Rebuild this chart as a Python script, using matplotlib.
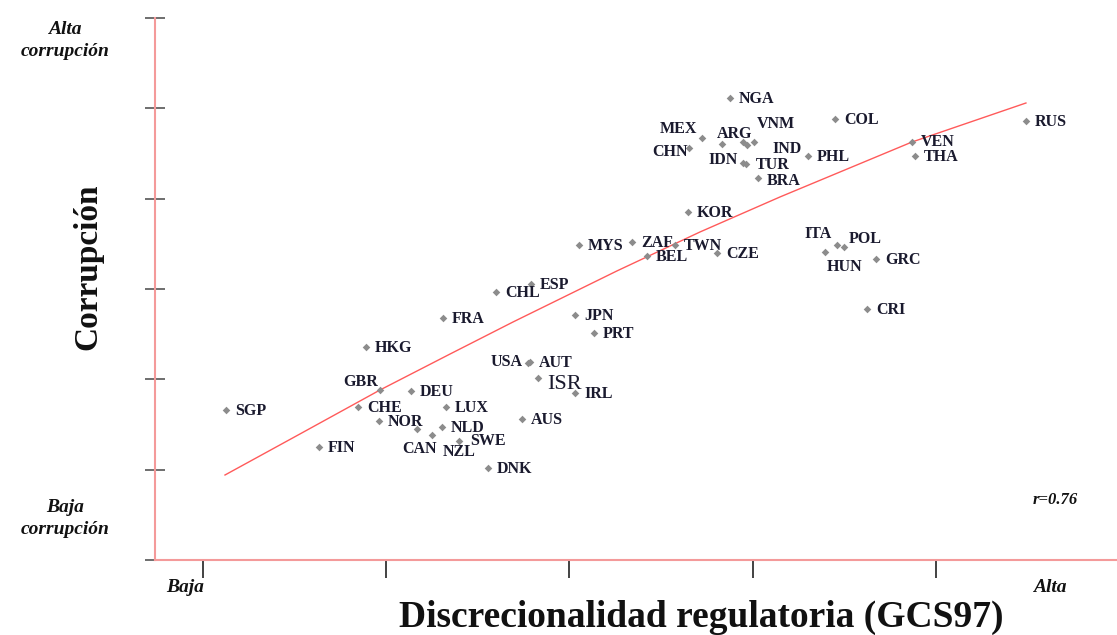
import numpy as np
import matplotlib
matplotlib.use("Agg")
import matplotlib.pyplot as plt

# country codes and values (x = discrecionalidad, y = corrupcion)
codes = ["NGA", "MEX", "CHN", "ARG", "", "IND", "VNM", "IDN", "TUR", "BRA",
         "PHL", "COL", "RUS", "VEN", "THA", "KOR", "MYS", "ZAF", "TWN", "BEL",
         "CZE", "ITA", "POL", "HUN", "GRC", "CRI", "ESP", "CHL", "FRA", "JPN",
         "PRT", "HKG", "USA", "AUT", "ISR", "IRL", "GBR", "DEU", "SGP", "CHE",
         "NOR", "LUX", "NLD", "AUS", "CAN", "NZL", "SWE", "FIN", "DNK"]
x_vals = [3.876, 3.723, 3.652, 3.832, 3.947, 3.969, 4.007, 3.947, 3.963, 4.029,
          4.302, 4.449, 5.491, 4.869, 4.885, 3.647, 3.052, 3.341, 3.576, 3.423,
          3.805, 4.460, 4.498, 4.394, 4.673, 4.624, 2.790, 2.599, 2.310, 3.030,
          3.134, 1.890, 2.773, 2.784, 2.828, 3.030, 1.966, 2.135, 1.126, 1.846,
          1.960, 2.326, 2.304, 2.741, 2.168, 2.250, 2.397, 1.633, 2.555]
y_vals = [5.115, 4.672, 4.561, 4.605, 4.627, 4.594, 4.627, 4.395, 4.384, 4.229,
          4.473, 4.882, 4.860, 4.627, 4.473, 3.853, 3.487, 3.520, 3.487, 3.365,
          3.399, 3.487, 3.465, 3.410, 3.332, 2.779, 3.055, 2.967, 2.679, 2.712,
          2.513, 2.358, 2.181, 2.192, 2.015, 1.849, 1.882, 1.871, 1.661, 1.694,
          1.539, 1.694, 1.472, 1.561, 1.450, 1.384, 1.317, 1.251, 1.019]

# fitted curve, points
fit_x = [1.120, 1.529, 1.966, 2.348, 2.692, 3.259, 3.712, 4.149, 4.869, 5.491]
fit_y = [0.941, 1.395, 1.882, 2.280, 2.635, 3.200, 3.631, 4.019, 4.627, 5.059]

# label placement exceptions (pixel offsets, alignment); default is to the right
label_pos = {
    "MEX": (-5, 9, "right"), "CHN": (-1, -4, "right"), "ARG": (-5, 10, "left"),
    "VNM": (3, 18, "left"), "IND": (25, -4, "left"), "IDN": (-5, 3, "right"),
    "TUR": (10, -1, "left"), "ITA": (-5, 11, "right"), "POL": (5, 8, "left"),
    "HUN": (2, -15, "left"), "USA": (-5, 1, "right"), "GBR": (-2, 8, "right"),
    "CAN": (2, -20, "center"), "NZL": (11, -17, "left"), "SWE": (11, 0, "left"),
    "ISR": (9, -7, "left"), "VEN": (9, 0, "left"), "BRA": (9, -3, "left"),
}

fig = plt.figure(figsize=(11.17, 6.35), dpi=100)
ax = fig.add_axes([155 / 1117, 75 / 635, 962 / 1117, 542 / 635])

ax.plot(fit_x, fit_y, color="#ff5a5a", lw=1.0, zorder=2)
ax.scatter(x_vals, y_vals, marker="D", s=15, color="#8c8c8c", zorder=3, linewidths=0)

serif = "Liberation Serif"
for c, xv, yv in zip(codes, x_vals, y_vals):
    if not c:
        continue
    dx, dy, ha = label_pos.get(c, (9, -1, "left"))
    if c == "ISR":
        ax.annotate(c, (xv, yv), xytext=(dx, dy), textcoords="offset pixels",
                    ha=ha, va="center", fontsize=16, family=serif, color="#1a1a2e")
    else:
        ax.annotate(c, (xv, yv), xytext=(dx, dy), textcoords="offset pixels",
                    ha=ha, va="center", fontsize=11.5, fontweight="bold",
                    family=serif, color="#1a1a2e")

ax.set_xlim(0.738, 5.988)
ax.set_ylim(0, 6)
ax.set_xticks([1, 2, 3, 4, 5])
ax.set_yticks([0, 1, 2, 3, 4, 5, 6])
ax.set_xticklabels([])
ax.set_yticklabels([])
ax.tick_params(axis="x", direction="out", length=13, width=1.2, color="#222222")
ax.tick_params(axis="y", direction="inout", length=15, width=1.2, color="#555555")
for s in ["top", "right"]:
    ax.spines[s].set_visible(False)
for s in ["left", "bottom"]:
    ax.spines[s].set_color("#f49a9a")
    ax.spines[s].set_linewidth(1.5)

txt = dict(family=serif, fontweight="bold", style="italic", color="#111111",
           ha="center", va="center")
fig.text(65 / 1117, 1 - 30 / 635, "Alta", fontsize=14, **txt)
fig.text(65 / 1117, 1 - 51 / 635, "corrupción", fontsize=14, **txt)
fig.text(65 / 1117, 1 - 508 / 635, "Baja", fontsize=14, **txt)
fig.text(65 / 1117, 1 - 529 / 635, "corrupción", fontsize=14, **txt)
fig.text(185 / 1117, 1 - 587 / 635, "Baja", fontsize=14, **txt)
fig.text(1050 / 1117, 1 - 587 / 635, "Alta", fontsize=14, **txt)
fig.text(1055 / 1117, 1 - 500 / 635, "r=0.76", fontsize=12, family=serif,
         style="italic", fontweight="bold", color="#111111", ha="center", va="center")

fig.text(88 / 1117, 1 - 267 / 635, "Corrupción", rotation=90, fontsize=24,
         family=serif, fontweight="bold", color="#111111", ha="center", va="center")
fig.text(701 / 1117, 1 - 617 / 635, "Discrecionalidad regulatoria (GCS97)",
         fontsize=27, family=serif, fontweight="bold", color="#111111",
         ha="center", va="center")

fig.savefig("out.png", dpi=100)
